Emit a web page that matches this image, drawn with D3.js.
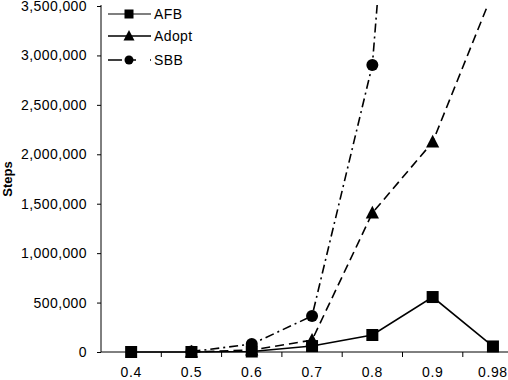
<!DOCTYPE html>
<html><head><meta charset="utf-8">
<script src="https://cdn.jsdelivr.net/npm/d3@7"></script>
<style>
body{margin:0;background:#fff;}
text{font-family:"Liberation Sans",Arial,sans-serif;fill:#000;}
</style></head>
<body><svg id="c" width="508" height="380"></svg>
<script>
const categories = ["0.4","0.5","0.6","0.7","0.8","0.9","0.98"];
const afb   = [0, 0, 5000, 60000, 172000, 556000, 56000];
const adopt = [null, 0, 20000, 120000, 1406000, 2124000, 3640000];
const sbb   = [null, 5000, 80000, 364000, 2903000, 10500000, null];
const yTicks = [0,500000,1000000,1500000,2000000,2500000,3000000,3500000];
const seriesNames = ["AFB","Adopt","SBB"];

(function(){
const svg = d3.select("#c");
const mLeft = 101, mBottom = 352, mTop = 6, band = 60.3;
const x = d3.scaleBand().domain(categories).range([mLeft, mLeft + band*categories.length]).padding(0);
const y = d3.scaleLinear().domain([0,3500000]).range([mBottom, mTop]);
const cx = d => x(d) + x.bandwidth()/2;

svg.append("defs").append("clipPath").attr("id","clip")
  .append("rect").attr("x", mLeft).attr("y", mTop-1).attr("width", 508-mLeft).attr("height", mBottom-mTop+20);

// Y axis
const ya = svg.append("g").attr("transform",`translate(${mLeft},0)`)
  .call(d3.axisLeft(y).tickValues(yTicks).tickFormat(d3.format(",")).tickSize(4).tickPadding(10));
ya.select(".domain").remove();
ya.append("line").attr("x1",0).attr("x2",0).attr("y1",mTop-1).attr("y2",mBottom).attr("stroke","#000");
ya.selectAll("text").attr("font-size",14).attr("font-family","Liberation Sans, Arial").attr("fill","#000").style("letter-spacing","0.4px");
ya.selectAll(".tick line").attr("stroke","#000");

// X axis
const xa = svg.append("g").attr("transform",`translate(0,${mBottom})`);
xa.append("line").attr("x1",mLeft).attr("x2",508).attr("y1",0).attr("y2",0).attr("stroke","#000");
xa.selectAll("line.tk").data(categories.slice(1)).enter().append("line").attr("class","tk")
  .attr("x1",d=>x(d)).attr("x2",d=>x(d)).attr("y1",0).attr("y2",5).attr("stroke","#000");
xa.selectAll("text").data(categories).enter().append("text")
  .attr("x",d=>cx(d)).attr("y",25).attr("text-anchor","middle").attr("font-size",14)
  .style("letter-spacing","0.6px").text(d=>d);

// Y label
svg.append("text").attr("transform","translate(12,179) rotate(-90)").attr("text-anchor","middle")
  .attr("font-size",13).attr("font-weight","bold").text("Steps");

const styles = [
  {data: afb, dash: null, marker: "square"},
  {data: adopt, dash: "9,5", marker: "triangle"},
  {data: sbb, dash: "9,4,2,4", marker: "circle"}
];
const line = d3.line().defined(d=>d.v!=null).x(d=>cx(d.c)).y(d=>y(d.v));
const plot = svg.append("g").attr("clip-path","url(#clip)");

function marker(g, type, size){
  if(type==="square") return g.append("rect").attr("x",-size/2).attr("y",-size/2).attr("width",size).attr("height",size);
  if(type==="triangle") return g.append("path").attr("d",`M0,${-size*0.6}L${size*0.55},${size*0.45}L${-size*0.55},${size*0.45}Z`);
  return g.append("circle").attr("r",size/2);
}

[2,1,0].forEach(i=>{
  const s = styles[i];
  const pts = categories.map((c,j)=>({c, v:s.data[j]}));
  plot.append("path").datum(pts).attr("d",line).attr("fill","none").attr("stroke","#000")
    .attr("stroke-width",1.6).attr("stroke-dasharray",s.dash);
});
[2,1,0].forEach(i=>{
  const s = styles[i];
  const pts = categories.map((c,j)=>({c, v:s.data[j]})).filter(d=>d.v!=null && y(d.v)>0);
  pts.forEach(p=>{
    const g = plot.append("g").attr("transform",`translate(${cx(p.c)},${y(p.v)})`);
    marker(g, s.marker, 12).attr("fill","#000");
  });
});

// Legend
const legY = [14, 36, 60];
seriesNames.forEach((n,i)=>{
  const g = svg.append("g").attr("transform",`translate(0,${legY[i]})`);
  g.append("line").attr("x1",108).attr("x2",151).attr("y1",0).attr("y2",0).attr("stroke","#000")
    .attr("stroke-width",i===0?1.2:1.6).attr("stroke-dasharray", i===1?"20,3,20":(i===2?"14,8,6":null));
  const m = g.append("g").attr("transform","translate(129,0)");
  marker(m, styles[i].marker, i===1?10:9).attr("fill","#000");
  g.append("text").attr("x",154).attr("y",5).attr("font-size",14).style("letter-spacing","0.4px").text(n);
});
})();
</script></body></html>
